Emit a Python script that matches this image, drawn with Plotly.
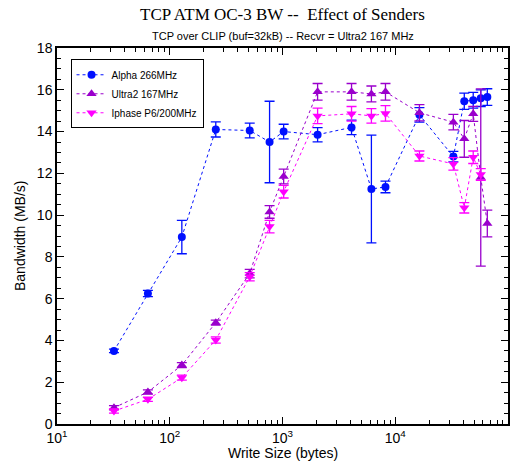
import plotly.graph_objects as go

sizes = [32, 64, 128, 256, 512, 768, 1024, 2048, 4096, 6144, 8192,
         16384, 32768, 40960, 49152, 57344, 65536]

alpha = [3.5, 6.25, 8.95, 14.1, 14.05, 13.5, 14.0, 13.85, 14.2, 11.25, 11.35,
         14.8, 12.8, 15.45, 15.5, 15.6, 15.65]
alpha_err = [0.08, 0.15, 0.8, 0.36, 0.35, 1.95, 0.35, 0.34, 0.35, 2.58, 0.28,
             0.35, 0.25, 0.39, 0.38, 0.4, 0.4]

ultra = [0.78, 1.53, 2.82, 4.85, 7.2, 10.15, 11.85, 15.9, 15.9, 15.8, 15.9,
         14.9, 14.45, 13.65, 14.85, 11.8, 9.6]
ultra_err = [0.1, 0.1, 0.12, 0.12, 0.2, 0.3, 0.35, 0.4, 0.4, 0.38, 0.4,
             0.39, 0.37, 0.88, 0.36, 4.24, 0.64]

iphase_sizes = sizes[:16]
iphase = [0.62, 1.18, 2.22, 4.02, 7.05, 9.45, 11.12, 14.75, 14.85, 14.75, 14.87,
          12.83, 12.45, 10.35, 12.77, 11.95]
iphase_err = [0.1, 0.1, 0.12, 0.15, 0.2, 0.3, 0.3, 0.37, 0.35, 0.35, 0.37,
              0.24, 0.3, 0.25, 0.3, 0.28]

x_tickvals = [10, 100, 1000, 10000, 100000]
x_ticktext = ["10<sup>1</sup>", "10<sup>2</sup>", "10<sup>3</sup>",
              "10<sup>4</sup>", "10<sup>5</sup>"]
x_minor = [m * 10 ** d for d in range(1, 5) for m in range(2, 10)]

series = [
    ("Alpha 266MHz", sizes, alpha, alpha_err, "#0010ff", "circle", 8),
    ("Ultra2 167MHz", sizes, ultra, ultra_err, "#9a00cc", "triangle-up", 9),
    ("Iphase P6/200MHz", iphase_sizes, iphase, iphase_err, "#ff00ff", "triangle-down", 9),
]

fig = go.Figure()
for name, xs, ys, es, col, sym, sz in series:
    fig.add_trace(go.Scatter(
        x=xs, y=ys, name=name, mode="lines+markers",
        line=dict(color=col, width=1, dash="dot"),
        marker=dict(color=col, symbol=sym, size=sz),
        error_y=dict(type="data", array=es, visible=True, color=col,
                     thickness=1.3, width=5),
    ))

fig.update_layout(
    width=516, height=463,
    margin=dict(l=57, r=8, t=48, b=39, autoexpand=False),
    plot_bgcolor="white", paper_bgcolor="white",
    font=dict(family="Liberation Sans, Arial, sans-serif", color="black"),
    showlegend=True,
    legend=dict(x=0.03, y=0.97, xanchor="left", yanchor="top",
                bgcolor="white", bordercolor="black", borderwidth=1,
                font=dict(size=10), tracegroupgap=0, itemwidth=30,
                traceorder="normal"),
    annotations=[
        dict(text="TCP ATM OC-3 BW --  Effect of Senders", xref="paper", yref="paper",
             x=0.5, y=1, yshift=34, xanchor="center", yanchor="middle", showarrow=False,
             font=dict(family="Liberation Serif, Times New Roman, serif", size=17)),
        dict(text="TCP over CLIP (buf=32kB) -- Recvr = Ultra2 167 MHz", xref="paper", yref="paper",
             x=0.5, y=1, yshift=12, xanchor="center", yanchor="middle", showarrow=False,
             font=dict(size=11)),
        dict(text="Write Size (bytes)", xref="paper", yref="paper",
             x=0.5, y=0, yshift=-29, xanchor="center", yanchor="middle", showarrow=False,
             font=dict(size=14)),
        dict(text="Bandwidth (MB/s)", xref="paper", yref="paper", textangle=-90,
             x=0, xshift=-37, y=0.5, xanchor="center", yanchor="middle", showarrow=False,
             font=dict(size=14)),
    ],
)

fig.update_xaxes(
    type="log", range=[1, 5], automargin=False,
    tickmode="array", tickvals=x_tickvals, ticktext=x_ticktext,
    ticks="inside", ticklen=7, tickcolor="black",
    showline=True, linecolor="black", linewidth=1.5, mirror="ticks",
    showgrid=False, zeroline=False,
    tickfont=dict(size=14),
    minor=dict(tickmode="array", tickvals=x_minor, ticks="inside", ticklen=4,
               tickcolor="black", showgrid=False),
)
fig.update_yaxes(
    range=[0, 18], tickmode="linear", tick0=0, dtick=2, automargin=False,
    ticks="inside", ticklen=7, tickcolor="black",
    showline=True, linecolor="black", linewidth=1.5, mirror="ticks",
    showgrid=False, zeroline=False,
    tickfont=dict(size=14),
    minor=dict(dtick=0.5, ticks="inside", ticklen=4, tickcolor="black", showgrid=False),
)

fig.write_html("out.html", config={"displayModeBar": False},
               post_script="document.body.style.margin='0';document.body.style.overflow='hidden';")
